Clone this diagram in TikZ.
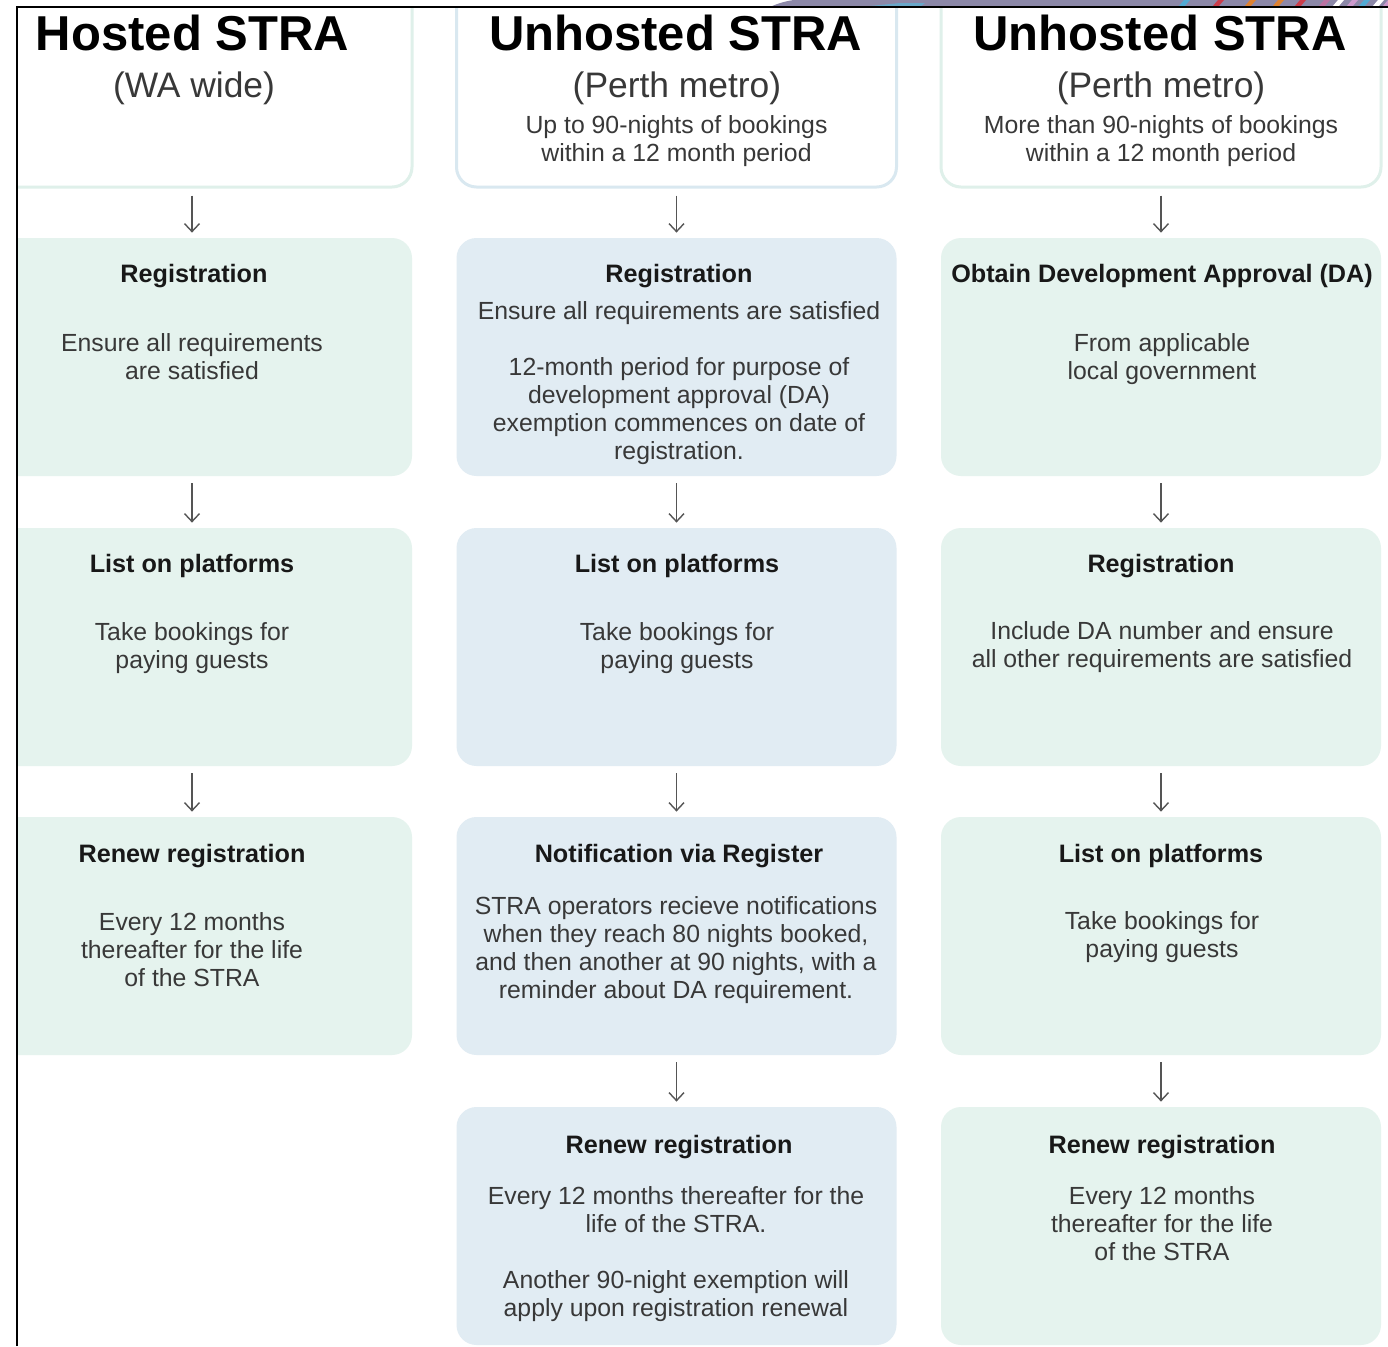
\documentclass[tikz,border=0pt]{standalone}
\usepackage{fontspec}
\setmainfont{Liberation Sans}
\usetikzlibrary{arrows.meta}
\definecolor{gfill}{HTML}{E5F3EE}
\definecolor{bfill}{HTML}{E1ECF3}
\definecolor{gline}{HTML}{DFF0EA}
\definecolor{bline}{HTML}{D9E8F0}
\definecolor{bodyc}{HTML}{383838}
\definecolor{titlec}{HTML}{181818}
\definecolor{arrc}{HTML}{555555}
\definecolor{bandc}{HTML}{8C88A8}
\begin{document}
\begin{tikzpicture}[x=0.5pt,y=-0.5pt,
  hdrbox/.style={draw=#1, line width=1.5pt, fill=white, rounded corners=10pt, minimum width=220pt, minimum height=113.5pt, inner sep=0},
  stepbox/.style={fill=#1, rounded corners=10pt, minimum width=220pt, minimum height=119pt, inner sep=0},
  head/.style={font=\fontsize{24.5}{28}\selectfont\bfseries, text=black, anchor=base, inner sep=0},
  sub/.style={font=\fontsize{17.7}{20}\selectfont, text=bodyc, anchor=base, inner sep=0},
  ttl/.style={font=\fontsize{12.6}{14}\selectfont\bfseries, text=titlec, anchor=base, inner sep=0},
  body/.style={font=\fontsize{12.4}{14}\selectfont, text=bodyc, anchor=base, inner sep=0},
  arr/.style={draw=arrc, line width=0.7pt, -{Straight Barb[length=4pt,width=7.5pt]}, shorten <=3.5pt, shorten >=2.5pt}]
\useasboundingbox (0,0) rectangle (1388,1346);
\fill[white] (0,0) rectangle (1388,1346);
% top decoration
\begin{scope}
\clip (0,0) rectangle (1388,6.5);
\fill[bandc] (770,7) .. controls (785,0) and (800,-2) .. (830,-2) -- (1388,-2) -- (1388,7) -- cycle;
\fill[cyan!45!bandc] (860,7) -- (900,3) -- (925,3) -- (920,7) -- cycle;
\foreach \sx/\sc in {1178/cyan!60!bandc,1212/red!55!bandc,1244/orange!70!bandc,1272/orange!70!bandc,1294/red!55!bandc,1318/magenta!35!bandc,1332/white,1346/violet!40!white,1358/cyan!60!bandc,1372/white,1382/violet!40!white}
  \fill[\sc] (\sx,7) -- (\sx+6,0) -- (\sx+12,0) -- (\sx+6,7) -- cycle;
\end{scope}
\begin{scope}
\clip (18,7) rectangle (1388,1346);
% headers
\node[hdrbox=gline] (h1) at (192,73.5) {};
\node[hdrbox=bline] (h2) at (676.5,73.5) {};
\node[hdrbox=gline] (h3) at (1161,73.5) {};
% column 1
\node[stepbox=gfill] (b11) at (192,357) {};
\node[stepbox=gfill] (b12) at (192,647) {};
\node[stepbox=gfill] (b13) at (192,936) {};
% column 2
\node[stepbox=bfill] (b21) at (676.5,357) {};
\node[stepbox=bfill] (b22) at (676.5,647) {};
\node[stepbox=bfill] (b23) at (676.5,936) {};
\node[stepbox=bfill] (b24) at (676.5,1226) {};
% column 3
\node[stepbox=gfill] (b31) at (1161,357) {};
\node[stepbox=gfill] (b32) at (1161,647) {};
\node[stepbox=gfill] (b33) at (1161,936) {};
\node[stepbox=gfill] (b34) at (1161,1226) {};
\end{scope}
% arrows
\draw[arr] (h1) -- (b11);
\draw[arr] (b11) -- (b12);
\draw[arr] (b12) -- (b13);
\draw[arr] (h2) -- (b21);
\draw[arr] (b21) -- (b22);
\draw[arr] (b22) -- (b23);
\draw[arr] (b23) -- (b24);
\draw[arr] (h3) -- (b31);
\draw[arr] (b31) -- (b32);
\draw[arr] (b32) -- (b33);
\draw[arr] (b33) -- (b34);
% header texts
\node[head] (t1a) at (192.5,50) {Hosted STRA};
\node[sub] (t1b) at (194,97) {(WA wide)};
\node[head] (t2a) at (675.5,50) {Unhosted STRA};
\node[sub] (t2b) at (677,97) {(Perth metro)};
\node[body] (t2c) at (676.5,133) {Up to 90-nights of bookings};
\node[body] (t2d) at (676.5,161) {within a 12 month period};
\node[head] (t3a) at (1160,50) {Unhosted STRA};
\node[sub] (t3b) at (1161,97) {(Perth metro)};
\node[body] (t3c) at (1161,133) {More than 90-nights of bookings};
\node[body] (t3d) at (1161,161) {within a 12 month period};
% column 1 texts
\node[ttl] (c11t) at (194,282) {Registration};
\node[body] (c11a) at (192,351) {Ensure all requirements};
\node[body] (c11b) at (192,379) {are satisfied};
\node[ttl] (c12t) at (192,572) {List on platforms};
\node[body] (c12a) at (192,640) {Take bookings for};
\node[body] (c12b) at (192,668) {paying guests};
\node[ttl] (c13t) at (192,862) {Renew registration};
\node[body] (c13a) at (192,930) {Every 12 months};
\node[body] (c13b) at (192,958) {thereafter for the life};
\node[body] (c13c) at (192,986) {of the STRA};
% column 2 texts
\node[ttl] (c21t) at (679,282) {Registration};
\node[body] (c21a) at (679,319) {Ensure all requirements are satisfied};
\node[body] (c21b) at (679,375) {12-month period for purpose of};
\node[body] (c21c) at (679,403) {development approval (DA)};
\node[body] (c21d) at (679,431) {exemption commences on date of};
\node[body] (c21e) at (679,459) {registration.};
\node[ttl] (c22t) at (677,572) {List on platforms};
\node[body] (c22a) at (677,640) {Take bookings for};
\node[body] (c22b) at (677,668) {paying guests};
\node[ttl] (c23t) at (679,862) {Notification via Register};
\node[body] (c23a) at (676,914) {STRA operators recieve notifications};
\node[body] (c23b) at (676,942) {when they reach 80 nights booked,};
\node[body] (c23c) at (676,970) {and then another at 90 nights, with a};
\node[body] (c23d) at (676,998) {reminder about DA requirement.};
\node[ttl] (c24t) at (679,1153) {Renew registration};
\node[body] (c24a) at (676,1204) {Every 12 months thereafter for the};
\node[body] (c24b) at (676,1232) {life of the STRA.};
\node[body] (c24c) at (676,1288) {Another 90-night exemption will};
\node[body] (c24d) at (676,1316) {apply upon registration renewal};
% column 3 texts
\node[ttl] (c31t) at (1162,282) {Obtain Development Approval (DA)};
\node[body] (c31a) at (1162,351) {From applicable};
\node[body] (c31b) at (1162,379) {local government};
\node[ttl] (c32t) at (1161,572) {Registration};
\node[body] (c32a) at (1162,639) {Include DA number and ensure};
\node[body] (c32b) at (1162,667) {all other requirements are satisfied};
\node[ttl] (c33t) at (1161,862) {List on platforms};
\node[body] (c33a) at (1162,929) {Take bookings for};
\node[body] (c33b) at (1162,957) {paying guests};
\node[ttl] (c34t) at (1162,1153) {Renew registration};
\node[body] (c34a) at (1162,1204) {Every 12 months};
\node[body] (c34b) at (1162,1232) {thereafter for the life};
\node[body] (c34c) at (1162,1260) {of the STRA};
% frame
\draw[line width=1pt] (17,1346) -- (17,6.5) -- (1388,6.5);
\end{tikzpicture}
\end{document}
